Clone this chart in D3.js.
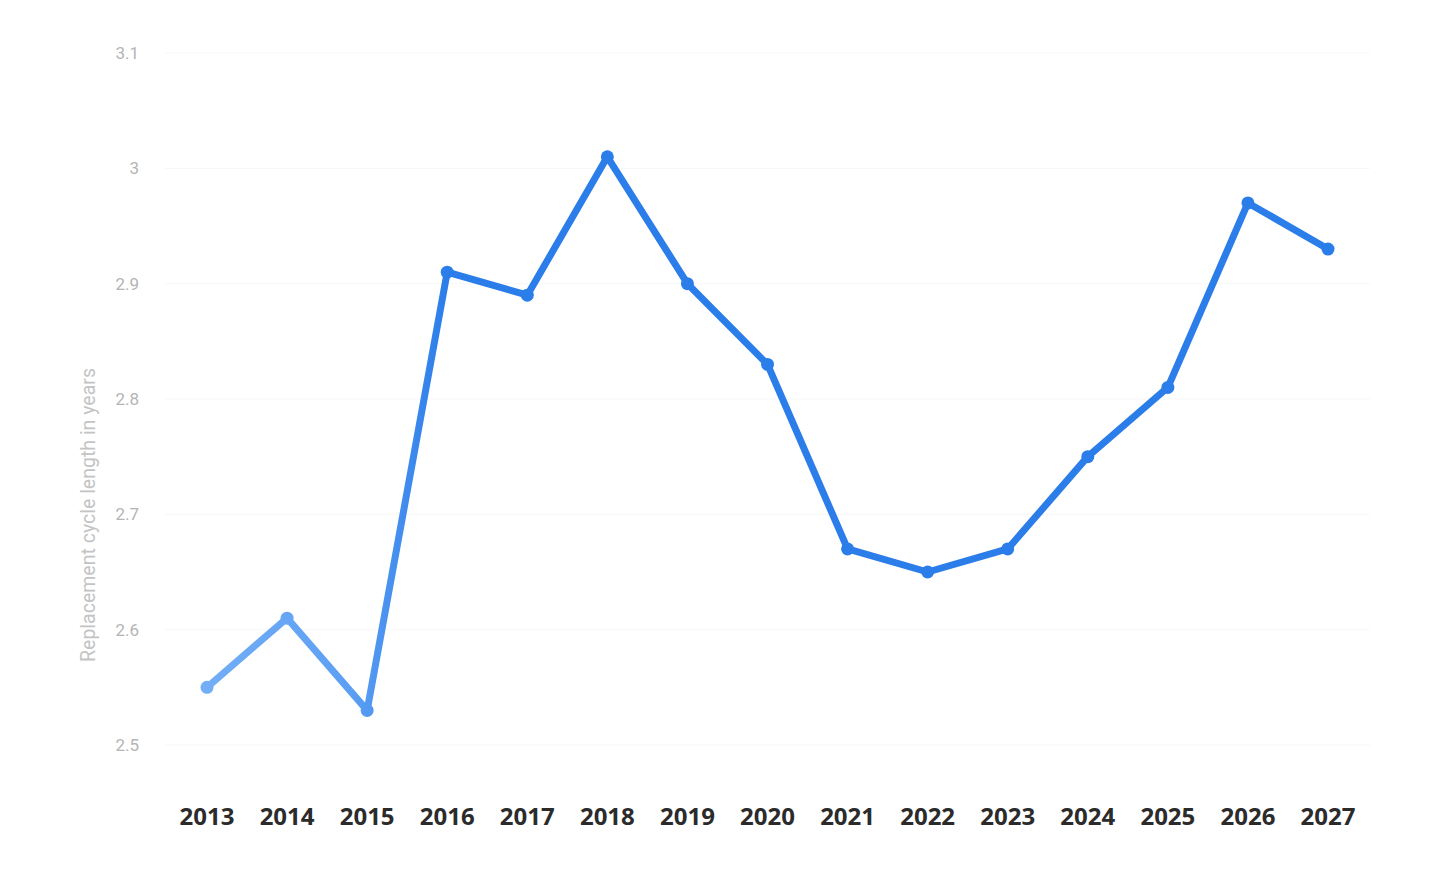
<!DOCTYPE html>
<html>
<head>
<meta charset="utf-8">
<script src="https://cdn.jsdelivr.net/npm/d3@7"></script>
<style>
  body { margin: 0; background: #fff; }
</style>
</head>
<body>
<svg id="chart" width="1433" height="892"></svg>
<script>
var years = ["2013", "2014", "2015", "2016", "2017", "2018", "2019", "2020",
             "2021", "2022", "2023", "2024", "2025", "2026", "2027"];
var cycleYears = [2.55, 2.61, 2.53, 2.91, 2.89, 3.01, 2.90, 2.83,
                  2.67, 2.65, 2.67, 2.75, 2.81, 2.97, 2.93];
var yTicks = [2.5, 2.6, 2.7, 2.8, 2.9, 3, 3.1];

document.addEventListener("DOMContentLoaded", function() {
    drawChart();
});

function drawChart() {
    var svg = d3.select("#chart");

    var x = d3.scalePoint()
        .domain(years)
        .range([207, 1328]);

    var y = d3.scaleLinear()
        .domain([2.5, 3.1])
        .range([745, 53]);

    // very faint grid lines
    svg.append("g")
        .selectAll("line")
        .data(yTicks)
        .enter().append("line")
        .attr("x1", 165)
        .attr("x2", 1370)
        .attr("y1", function(d) { return y(d); })
        .attr("y2", function(d) { return y(d); })
        .attr("stroke", "#f7f7f7")
        .attr("stroke-width", 1);

    // y tick labels
    svg.append("g")
        .selectAll("text")
        .data(yTicks)
        .enter().append("text")
        .attr("x", 139)
        .attr("y", function(d) { return y(d); })
        .attr("dy", "0.35em")
        .style("text-anchor", "end")
        .style("font-family", "Roboto, 'Liberation Sans', sans-serif")
        .style("font-size", "17px")
        .style("fill", "#b4b4b4")
        .text(function(d) { return d; });

    // y axis title
    svg.append("text")
        .attr("transform", "translate(95," + 515 + ") rotate(-90)")
        .style("text-anchor", "middle")
        .style("font-family", "Roboto, 'Liberation Sans', sans-serif")
        .style("font-size", "19.5px")
        .style("fill", "#c4c4c4")
        .text("Replacement cycle length in years");

    // x labels
    svg.append("g")
        .selectAll("text")
        .data(years)
        .enter().append("text")
        .attr("x", function(d) { return x(d); })
        .attr("y", 825)
        .style("text-anchor", "middle")
        .style("font-family", "'Open Sans', sans-serif")
        .style("font-weight", "bold")
        .style("font-size", "24px")
        .style("fill", "#2b2b2b")
        .text(function(d) { return d; });

    // gradient: lighter at the start of the line
    var grad = svg.append("defs").append("linearGradient")
        .attr("id", "lineGrad")
        .attr("gradientUnits", "userSpaceOnUse")
        .attr("x1", x("2013")).attr("y1", 0)
        .attr("x2", x("2016")).attr("y2", 0);
    grad.append("stop").attr("offset", "0%").attr("stop-color", "#73aef6");
    grad.append("stop").attr("offset", "60%").attr("stop-color", "#5c9ff3");
    grad.append("stop").attr("offset", "100%").attr("stop-color", "#2b7de9");

    var data = years.map(function(d, i) { return { year: d, value: cycleYears[i] }; });

    var line = d3.line()
        .x(function(d) { return x(d.year); })
        .y(function(d) { return y(d.value); });

    svg.append("path")
        .datum(data)
        .attr("d", line)
        .attr("fill", "none")
        .attr("stroke", "url(#lineGrad)")
        .attr("stroke-width", 7)
        .attr("stroke-linejoin", "round")
        .attr("stroke-linecap", "round");

    svg.append("g")
        .selectAll("circle")
        .data(data)
        .enter().append("circle")
        .attr("cx", function(d) { return x(d.year); })
        .attr("cy", function(d) { return y(d.value); })
        .attr("r", 6.5)
        .attr("fill", "url(#lineGrad)");
}
</script>
</body>
</html>
